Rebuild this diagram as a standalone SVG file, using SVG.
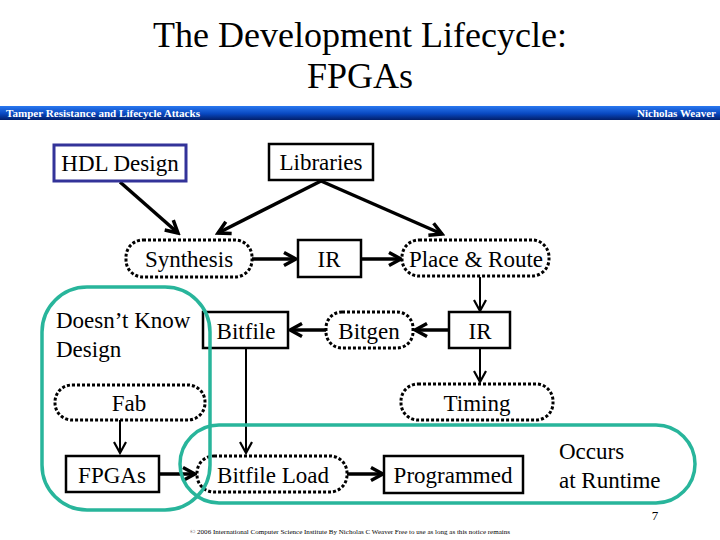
<svg xmlns="http://www.w3.org/2000/svg" width="720" height="540" viewBox="0 0 720 540" font-family="'Liberation Serif', Tinos, 'DejaVu Serif', serif">
<style>
text{font-family:'Liberation Serif',Tinos,'DejaVu Serif',serif;fill:#000}
.n{font-size:23px;text-anchor:middle}
.box{fill:#fff;stroke:#000;stroke-width:2.5}
.dot{fill:#fff;stroke:#000;stroke-width:3;stroke-dasharray:3 2}
.thick{stroke:#000;stroke-width:3.5;fill:none;marker-end:url(#ah)}
.thin{stroke:#000;stroke-width:2;fill:none;marker-end:url(#ahs)}
.teal{fill:none;stroke:#28b59b;stroke-width:3.5}
</style>
<defs>
<linearGradient id="bar" x1="0" y1="0" x2="0" y2="1">
<stop offset="0" stop-color="#2a78f0"/>
<stop offset="0.55" stop-color="#0848c0"/>
<stop offset="1" stop-color="#021f6a"/>
</linearGradient>
<marker id="ah" markerUnits="userSpaceOnUse" markerWidth="18" markerHeight="18" viewBox="0 0 18 18" refX="15" refY="9" orient="auto">
<path d="M3,2.5 L15,9 L3,15.5" fill="none" stroke="#000" stroke-width="3.5"/>
</marker>
<marker id="ahs" markerUnits="userSpaceOnUse" markerWidth="16" markerHeight="16" viewBox="0 0 16 16" refX="13" refY="8" orient="auto">
<path d="M2,2 L13,8 L2,14" fill="none" stroke="#000" stroke-width="2.2"/>
</marker>
</defs>
<rect width="720" height="540" fill="#fff"/>
<g id="title">
<text x="360" y="47" font-size="36" text-anchor="middle" font-family="'Liberation Serif', serif">The Development Lifecycle:</text>
<text x="360" y="88" font-size="36" text-anchor="middle" font-family="'Liberation Serif', serif">FPGAs</text>
</g>
<g id="header">
<rect x="0" y="106" width="720" height="14" fill="url(#bar)"/>
<text x="6" y="117" font-size="11" font-weight="bold" style="fill:#fff" textLength="194" lengthAdjust="spacingAndGlyphs">Tamper Resistance and Lifecycle Attacks</text>
<text x="716" y="117" font-size="11" font-weight="bold" text-anchor="end" style="fill:#fff">Nicholas Weaver</text>
</g>
<g id="connectors">
<line class="thick" x1="120" y1="182" x2="178" y2="233"/>
<line class="thick" x1="321" y1="181" x2="218" y2="233"/>
<line class="thick" x1="321" y1="181" x2="442" y2="234"/>
<line class="thick" x1="252" y1="259" x2="296" y2="259"/>
<line class="thick" x1="361" y1="259" x2="401" y2="259"/>
<line class="thin" x1="480" y1="277" x2="480" y2="311"/>
<line class="thick" x1="449" y1="330" x2="415" y2="330"/>
<line class="thick" x1="326" y1="330" x2="290" y2="330"/>
<line class="thin" x1="480" y1="348" x2="480" y2="382"/>
<line class="thin" x1="246" y1="348" x2="246" y2="453"/>
<line class="thin" x1="120" y1="420" x2="120" y2="453"/>
<line class="thick" x1="159" y1="474" x2="195" y2="474"/>
<line class="thick" x1="347" y1="474" x2="383" y2="474"/>
</g>
<g id="hdl">
<rect x="54" y="145" width="132" height="36" fill="#fff" stroke="#333399" stroke-width="3"/>
<text class="n" x="120" y="171">HDL Design</text>
</g>
<g id="libraries">
<rect class="box" x="269" y="144" width="104" height="36"/>
<text class="n" x="321" y="170">Libraries</text>
</g>
<g id="synthesis">
<rect class="dot" x="126" y="240" width="126" height="37" rx="17"/>
<text class="n" x="189" y="267">Synthesis</text>
</g>
<g id="ir1">
<rect class="box" x="298" y="240" width="63" height="37"/>
<text class="n" x="329" y="267">IR</text>
</g>
<g id="placeroute">
<rect class="dot" x="402" y="240" width="147" height="36" rx="17"/>
<text class="n" x="476" y="267">Place &amp; Route</text>
</g>
<g id="ir2">
<rect class="box" x="449" y="312" width="61" height="36"/>
<text class="n" x="480" y="339">IR</text>
</g>
<g id="bitgen">
<rect class="dot" x="326" y="312" width="87" height="36" rx="16"/>
<text class="n" x="369" y="339">Bitgen</text>
</g>
<g id="bitfile">
<rect class="box" x="203" y="312" width="85" height="36"/>
<text class="n" x="246" y="339">Bitfile</text>
</g>
<g id="doesntknow">
<text x="56" y="328" font-size="23">Doesn’t Know</text>
<text x="56" y="357" font-size="23">Design</text>
</g>
<g id="fab">
<rect class="dot" x="55" y="385" width="150" height="35" rx="17"/>
<text class="n" x="129" y="411">Fab</text>
</g>
<g id="timing">
<rect class="dot" x="401" y="384" width="152" height="36" rx="17"/>
<text class="n" x="477" y="411">Timing</text>
</g>
<g id="fpgas">
<rect class="box" x="66" y="456" width="93" height="36"/>
<text class="n" x="112" y="483">FPGAs</text>
</g>
<g id="bitfileload">
<rect class="dot" x="197" y="456" width="150" height="36" rx="17"/>
<text class="n" x="273" y="483">Bitfile Load</text>
</g>
<g id="programmed">
<rect class="box" x="384" y="456" width="139" height="37"/>
<text class="n" x="453" y="483">Programmed</text>
</g>
<g id="runtime">
<text x="559" y="459" font-size="23">Occurs</text>
<text x="559" y="488" font-size="23">at Runtime</text>
</g>
<g id="regions">
<rect class="teal" x="42" y="287" width="168" height="223" rx="45"/>
<rect class="teal" x="180" y="425" width="515" height="78" rx="39"/>
</g>
<g id="footer">
<text x="655" y="520" font-size="13" text-anchor="middle">7</text>
<text x="350" y="534" font-size="6" text-anchor="middle" textLength="320" lengthAdjust="spacingAndGlyphs">© 2006 International Computer Science Institute   By Nicholas C Weaver   Free to use as long as this notice remains</text>
</g>
</svg>
